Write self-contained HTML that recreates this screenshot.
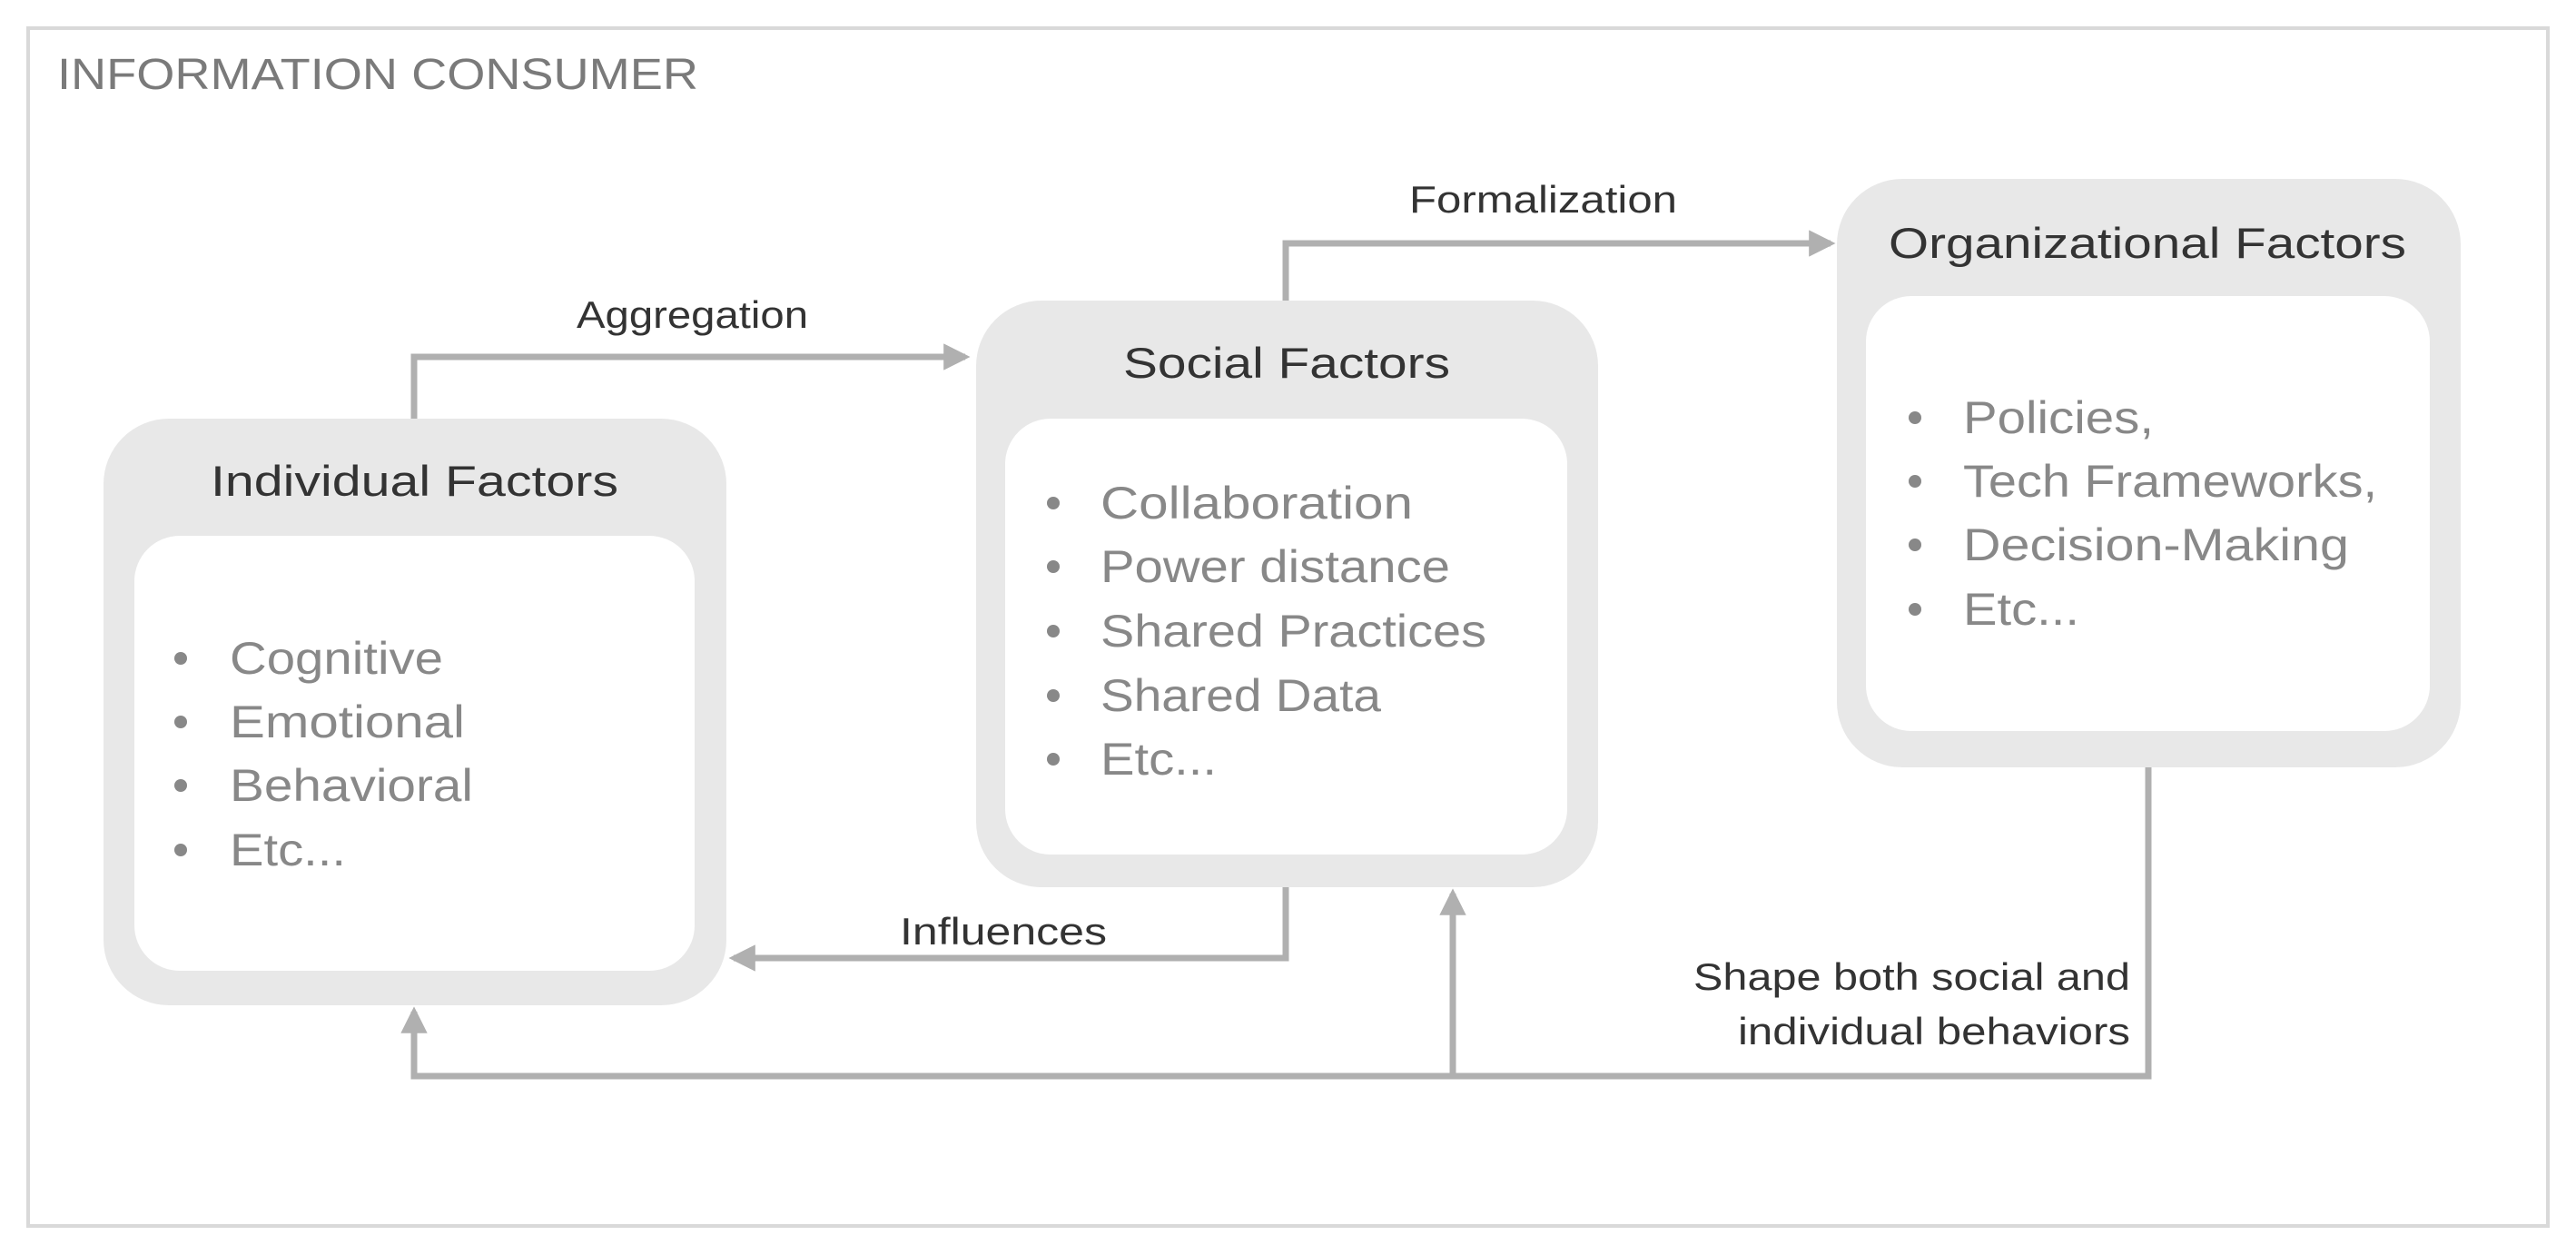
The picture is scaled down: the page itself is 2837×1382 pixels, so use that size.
<!DOCTYPE html>
<html><head><meta charset="utf-8"><style>html,body{margin:0;padding:0;background:#fff}svg{display:block}</style></head>
<body>
<svg width="2837" height="1382" viewBox="0 0 2837 1382" xmlns="http://www.w3.org/2000/svg" font-family="'Liberation Sans', sans-serif">
<defs>
<marker id="ah" markerWidth="4.2" markerHeight="4.2" refX="3.4" refY="2.1" orient="auto" markerUnits="strokeWidth"><path d="M0,0 L4.2,2.1 L0,4.2 Z" fill="#b0b0b0"/></marker>
</defs>
<rect x="31" y="31" width="2775" height="1319" fill="#fff" stroke="#d9d9d9" stroke-width="4"/>
<text x="63" y="98" font-size="48" fill="#7a7a7a" textLength="706" lengthAdjust="spacingAndGlyphs">INFORMATION CONSUMER</text>

<g fill="none" stroke="#b0b0b0" stroke-width="7">
<path d="M456 461 V393 H1063" marker-end="url(#ah)"/>
<path d="M1416 331 V268 H2016" marker-end="url(#ah)"/>
<path d="M1416 977 V1055 H808" marker-end="url(#ah)"/>
<path d="M2366 845 V1185 H456 V1114" marker-end="url(#ah)"/>
<path d="M1600 1185 V984" marker-end="url(#ah)"/>
</g>

<rect x="114" y="461" width="686" height="646" rx="72" fill="#e8e8e8"/>
<rect x="148" y="590" width="617" height="479" rx="50" fill="#fff"/>
<rect x="1075" y="331" width="685" height="646" rx="72" fill="#e8e8e8"/>
<rect x="1107" y="461" width="619" height="480" rx="50" fill="#fff"/>
<rect x="2023" y="197" width="687" height="648" rx="72" fill="#e8e8e8"/>
<rect x="2055" y="326" width="621" height="479" rx="50" fill="#fff"/>

<g font-size="47" fill="#333">
<text x="232" y="546" textLength="449" lengthAdjust="spacingAndGlyphs">Individual Factors</text>
<text x="1237" y="416" textLength="360" lengthAdjust="spacingAndGlyphs">Social Factors</text>
<text x="2080" y="284" textLength="570" lengthAdjust="spacingAndGlyphs">Organizational Factors</text>
</g>

<g font-size="42" fill="#333">
<text x="635" y="361" textLength="255" lengthAdjust="spacingAndGlyphs">Aggregation</text>
<text x="1552" y="234" textLength="295" lengthAdjust="spacingAndGlyphs">Formalization</text>
<text x="991" y="1040" textLength="228" lengthAdjust="spacingAndGlyphs">Influences</text>
<text x="1865" y="1090" textLength="481" lengthAdjust="spacingAndGlyphs">Shape both social and</text>
<text x="1914" y="1150" textLength="432" lengthAdjust="spacingAndGlyphs">individual behaviors</text>
</g>

<g fill="#888">
<circle cx="199" cy="725" r="7"/><circle cx="199" cy="795" r="7"/><circle cx="199" cy="865" r="7"/><circle cx="199" cy="936" r="7"/>
<circle cx="1160" cy="554" r="7"/><circle cx="1160" cy="624" r="7"/><circle cx="1160" cy="695" r="7"/><circle cx="1160" cy="766" r="7"/><circle cx="1160" cy="836" r="7"/>
<circle cx="2109" cy="460" r="7"/><circle cx="2109" cy="530" r="7"/><circle cx="2109" cy="600" r="7"/><circle cx="2109" cy="671" r="7"/>
</g>
<g font-size="50" fill="#888">
<text x="253" y="742" textLength="235" lengthAdjust="spacingAndGlyphs">Cognitive</text>
<text x="253" y="812" textLength="259" lengthAdjust="spacingAndGlyphs">Emotional</text>
<text x="253" y="882" textLength="268" lengthAdjust="spacingAndGlyphs">Behavioral</text>
<text x="253" y="953" textLength="128" lengthAdjust="spacingAndGlyphs">Etc...</text>

<text x="1212" y="571" textLength="344" lengthAdjust="spacingAndGlyphs">Collaboration</text>
<text x="1212" y="641" textLength="385" lengthAdjust="spacingAndGlyphs">Power distance</text>
<text x="1212" y="712" textLength="425" lengthAdjust="spacingAndGlyphs">Shared Practices</text>
<text x="1212" y="783" textLength="309" lengthAdjust="spacingAndGlyphs">Shared Data</text>
<text x="1212" y="853" textLength="128" lengthAdjust="spacingAndGlyphs">Etc...</text>

<text x="2162" y="477" textLength="210" lengthAdjust="spacingAndGlyphs">Policies,</text>
<text x="2162" y="547" textLength="456" lengthAdjust="spacingAndGlyphs">Tech Frameworks,</text>
<text x="2162" y="617" textLength="425" lengthAdjust="spacingAndGlyphs">Decision-Making</text>
<text x="2162" y="688" textLength="128" lengthAdjust="spacingAndGlyphs">Etc...</text>
</g>
</svg>
</body></html>
